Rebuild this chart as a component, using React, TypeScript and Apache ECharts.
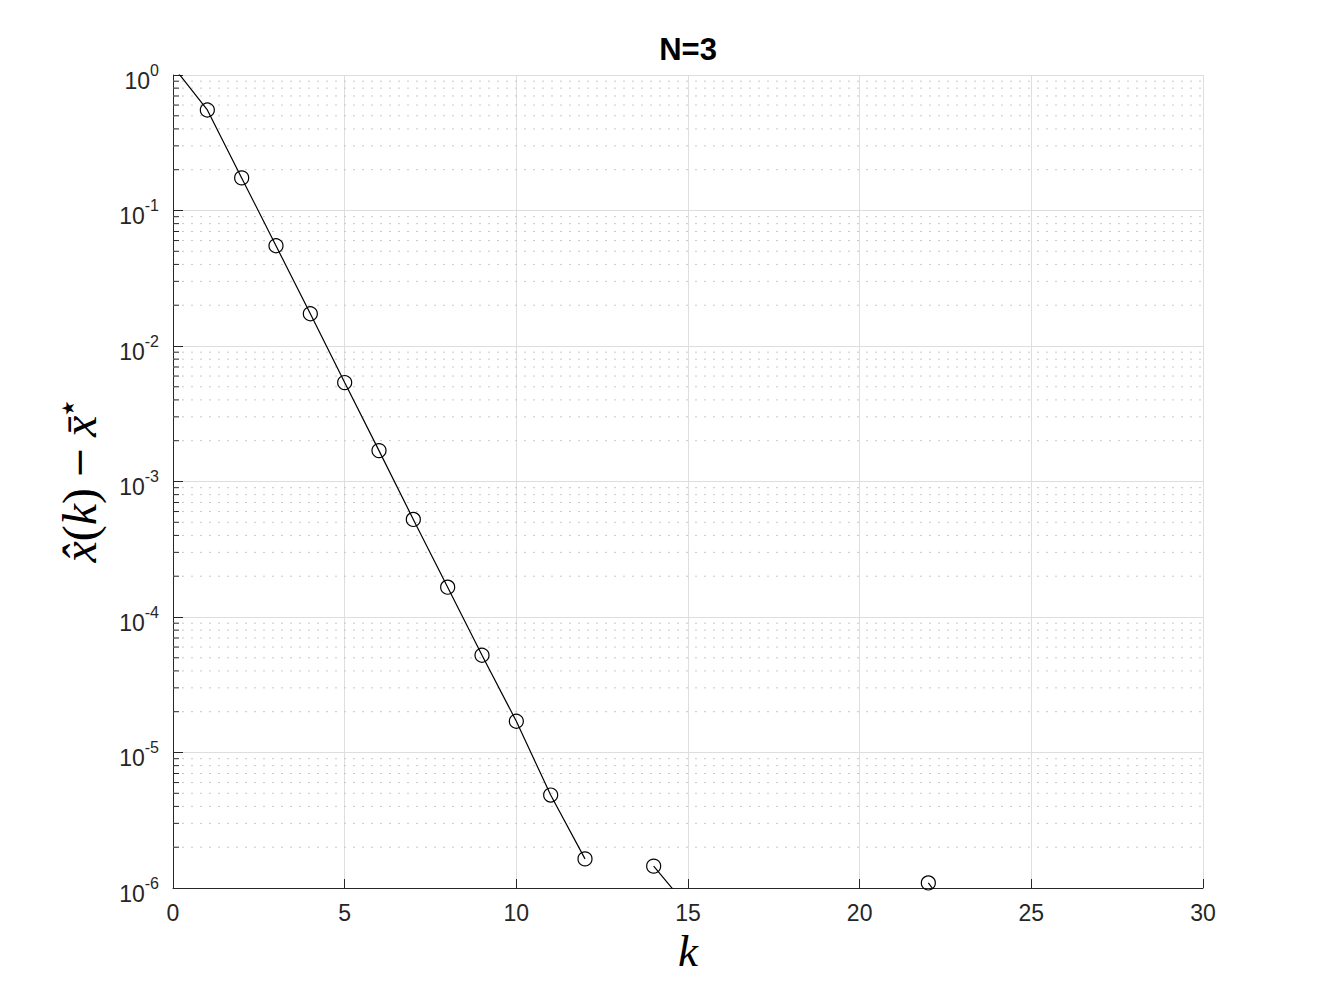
import React, { useEffect, useRef } from "react";
import * as echarts from "echarts";

// ---- data ----
const kValues: number[] = Array.from({ length: 31 }, (_, i) => i);
// error |x_hat(k) - x_bar*| per iteration (null = non-positive, not drawn on log axis)
const errValues: (number | null)[] = [
  1.16, 0.552, 0.174, 0.0549, 0.0173, 0.00537, 0.00169, 0.000525, 0.000166,
  5.22e-5, 1.7e-5, 4.85e-6, 1.64e-6, null, 1.45e-6, 7.2e-7, null, null, null,
  null, null, null, 1.09e-6, 5.0e-7, null, null, null, null, null, null, null,
];
const xTicks = { min: 0, max: 30, interval: 5 };
const yRange = { min: 1e-6, max: 1 };
const titleText = "N=3";

// minor log grid positions 2..9 x 10^e
const minorGrid: number[] = [];
for (let e = -6; e < 0; e++) {
  for (let m = 2; m <= 9; m++) minorGrid.push(m * Math.pow(10, e));
}

const AXIS = "#262626";
const SANS = "'Liberation Sans', Arial, Helvetica, sans-serif";
const SERIF = "'Liberation Serif', 'Times New Roman', 'DejaVu Serif', serif";

export default function App() {
  const ref = useRef<HTMLDivElement>(null);
  useEffect(() => {
    if (!ref.current) return;
    const chart = echarts.init(ref.current, undefined, { renderer: "svg" });
    const option: any = {
      animation: false,
      backgroundColor: "#ffffff",
      title: {
        text: titleText,
        left: 688,
        textAlign: "center",
        top: 34,
        padding: 0,
        textStyle: { fontFamily: SANS, fontWeight: "bold", fontSize: 31, color: "#000" },
      },
      grid: { left: 173, top: 75, width: 1030, height: 813 },
      xAxis: {
        type: "value",
        min: xTicks.min,
        max: xTicks.max,
        interval: xTicks.interval,
        name: "k",
        nameLocation: "middle",
        nameGap: 38,
        nameTextStyle: { fontFamily: SERIF, fontStyle: "italic", fontSize: 45, color: "#000" },
        axisLine: { show: true, onZero: false, lineStyle: { color: AXIS, width: 1 } },
        axisTick: { show: true, inside: true, length: 9, lineStyle: { color: AXIS } },
        axisLabel: { fontFamily: SANS, fontSize: 23, color: AXIS, margin: 13 },
        splitLine: { show: true, lineStyle: { color: "#dedede", width: 1 } },
      },
      yAxis: {
        type: "log",
        logBase: 10,
        min: yRange.min,
        max: yRange.max,
        name: "{i|x\u0302}{r|(}{i|k}{r|)}{m|\u2005\u2212\u2005}{i|x\u0304}{sup|\u2605}",
        nameLocation: "middle",
        nameGap: 68,
        nameTextStyle: {
          rich: {
            i: { fontFamily: SERIF, fontStyle: "italic", fontSize: 48, color: "#000", lineHeight: 52 },
            r: { fontFamily: SERIF, fontSize: 48, color: "#000", lineHeight: 52 },
            m: { fontFamily: "'DejaVu Serif', serif", fontWeight: 300, fontSize: 38, color: "#000", lineHeight: 52 },
            sup: { fontFamily: "'DejaVu Sans', sans-serif", fontSize: 17, color: "#000", verticalAlign: "top", height: 30, lineHeight: 20 },
          },
        },
        axisLine: { show: true, lineStyle: { color: AXIS, width: 1 } },
        axisTick: { show: true, inside: true, length: 10, lineStyle: { color: AXIS } },
        axisLabel: {
          margin: 14,
          formatter: (v: number) => {
            const e = Math.round(Math.log10(v));
            return `{h| }{b|10}{s|${e}}`;
          },
          rich: {
            h: { fontSize: 1, lineHeight: 34 },
            b: { fontFamily: SANS, fontSize: 23, color: AXIS, lineHeight: 26, verticalAlign: "bottom" },
            s: { fontFamily: SANS, fontSize: 16, color: AXIS, height: 24, lineHeight: 16, verticalAlign: "top" },
          },
        },
        splitLine: { show: true, lineStyle: { color: "#dedede", width: 1 } },
      },
      series: [
        {
          type: "custom",
          silent: true,
          z: 1,
          data: minorGrid.map((v) => [0, v]),
          encode: { x: 0, y: 1 },
          renderItem: (params: any, api: any) => {
            const y = api.coord([0, api.value(1)])[1];
            const cs = params.coordSys;
            return {
              type: "group",
              children: [
                {
                  type: "line",
                  shape: { x1: cs.x, y1: y, x2: cs.x + cs.width, y2: y },
                  style: { stroke: "#c8c8c8", lineWidth: 1, lineDash: [2, 7] },
                },
                {
                  type: "line",
                  shape: { x1: cs.x, y1: y, x2: cs.x + 6, y2: y },
                  style: { stroke: AXIS, lineWidth: 1 },
                },
              ],
            };
          },
        },
        {
          type: "line",
          z: 5,
          clip: true,
          connectNulls: false,
          data: kValues.map((k, i) => [k, errValues[i]]),
          symbol: "circle",
          symbolSize: 14,
          showSymbol: true,
          lineStyle: { color: "#000", width: 1.2 },
          itemStyle: { color: "rgba(0,0,0,0)", borderColor: "#000", borderWidth: 1.2 },
        },
      ],
    };
    chart.setOption(option);
    return () => chart.dispose();
  }, []);
  return (
    <div
      ref={ref}
      style={{ position: "absolute", left: 0, top: 0, width: 1329, height: 997 }}
    />
  );
}
